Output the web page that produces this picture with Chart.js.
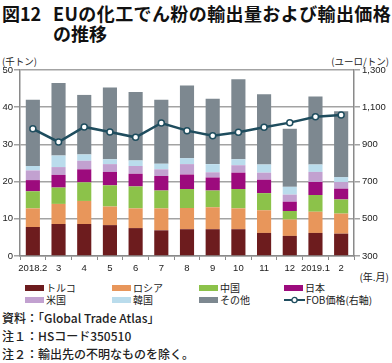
<!DOCTYPE html>
<html lang="ja">
<head>
  <meta charset="UTF-8">
  <title>EUの化工でん粉の輸出量および輸出価格の推移</title>
  <script src="https://cdn.jsdelivr.net/npm/chart.js"></script>
  <style>
body {
  margin: 0;
  width: 392px;
  height: 363px;
  background: #fff;
  position: relative;
  overflow: hidden;
  font-family: "Noto Sans CJK JP", "Liberation Sans", sans-serif;
  color: #222;
}
.title {
  position: absolute;
  font-size: 18px;
  font-weight: bold;
  line-height: 20px;
  white-space: nowrap;
  color: #111;
}
.unit {
  position: absolute;
  font-size: 9.5px;
  line-height: 12px;
  white-space: nowrap;
}
#chartBox {
  position: absolute;
  left: 0;
  top: 52px;
  width: 392px;
  height: 226px;
}
#legend .item {
  position: absolute;
  font-size: 10px;
  line-height: 12px;
  white-space: nowrap;
}
#legend .sw {
  display: inline-block;
  width: 19px;
  height: 6px;
  margin-right: 2px;
  vertical-align: 1px;
}
.note {
  position: absolute;
  left: 2px;
  font-size: 12px;
  line-height: 16px;
  white-space: nowrap;
  font-weight: 500;
}
  </style>
</head>
<body>
  <div class="title" style="left:2px; top:3px;">図12</div>
  <div class="title" style="left:53px; top:3px; letter-spacing:0.4px;">EUの化工でん粉の輸出量および輸出価格</div>
  <div class="title" style="left:53px; top:23px;">の推移</div>

  <div class="unit" style="left:2px; top:55px;">(千トン)</div>
  <div class="unit" style="right:3px; top:55px;">(ユーロ/トン)</div>
  <div class="unit" style="right:3px; top:271px; font-size:10px;">(年.月)</div>

  <div id="chartBox"><canvas id="chart" width="392" height="226"></canvas></div>
  <div id="legend"></div>

  <div class="note" style="top:310px;">資料：「Global Trade Atlas」</div>
  <div class="note" style="top:328px;">注１：HSコード350510</div>
  <div class="note" style="top:346px;">注２：輸出先の不明なものを除く。</div>

  <script>
    var months = ['2018.2', '3', '4', '5', '6', '7', '8', '9', '10', '11', '12', '2019.1', '2'];

    // thousand tonnes, bottom to top
    var turkey = [7.8, 8.6, 8.6, 8.3, 7.5, 6.9, 7.2, 7.2, 7.2, 6.2, 5.4, 6.2, 6.0];
    var russia = [5.0, 5.4, 6.2, 5.0, 5.3, 5.9, 5.7, 5.9, 5.6, 6.1, 4.4, 5.7, 5.4];
    var china  = [4.6, 4.4, 5.0, 5.7, 5.9, 4.8, 5.1, 4.5, 5.2, 4.6, 2.3, 4.5, 3.8];
    var japan  = [3.0, 3.4, 3.5, 3.6, 3.4, 3.9, 3.9, 3.5, 4.4, 3.6, 2.5, 3.5, 2.9];
    var usa    = [2.6, 2.1, 2.3, 2.1, 2.1, 1.8, 2.8, 1.4, 2.0, 1.9, 1.9, 2.7, 1.8];
    var korea  = [1.2, 3.1, 1.7, 1.3, 1.5, 1.5, 1.6, 2.2, 1.6, 2.2, 2.1, 2.0, 1.3];
    var others = [17.8, 19.5, 16.0, 19.3, 18.4, 17.2, 19.5, 17.6, 21.5, 18.9, 15.6, 18.3, 17.7];

    // euro per tonne (right axis)
    var fobPrice = [984, 913, 994, 967, 938, 1015, 974, 947, 965, 992, 1017, 1049, 1058];

    var leftTicks = [0, 10, 20, 30, 40, 50];
    var rightTicks = [300, 500, 700, 900, 1100, 1300];

    var barNames = ['トルコ', 'ロシア', '中国', '日本', '米国', '韓国', 'その他'];
    var barData = [turkey, russia, china, japan, usa, korea, others];
    var barColors = ['#6d1c1e', '#e8965b', '#8cc24a', '#9c0b7d', '#c2a1d0', '#badcec', '#7d8890'];
    var lineName = 'FOB価格(右軸)';
    var lineColor = '#1f4d5e';

    var tickFont = { family: '"Liberation Sans", "Noto Sans CJK JP", sans-serif', size: 9.5 };

    var datasets = barNames.map(function(name, i) {
      return {
        type: 'bar',
        label: name,
        data: barData[i],
        backgroundColor: barColors[i],
        yAxisID: 'y',
        stack: 'vol',
        order: 1,
        categoryPercentage: 1,
        barPercentage: 0.55
      };
    });
    datasets.push({
      type: 'line',
      label: lineName,
      data: fobPrice,
      yAxisID: 'y2',
      borderColor: lineColor,
      borderWidth: 2.5,
      pointRadius: 3,
      pointBorderWidth: 1.5,
      pointBackgroundColor: '#fff',
      pointBorderColor: lineColor,
      tension: 0,
      order: 0
    });

    var gridGrey = '#a3a3a3';
    var axisGrey = '#8a8a8a';

    new Chart(document.getElementById('chart').getContext('2d'), {
      data: { labels: months, datasets: datasets },
      options: {
        responsive: false,
        animation: false,
        devicePixelRatio: 1,
        layout: { padding: { top: 18, left: 0, right: 0, bottom: 0 } },
        plugins: { legend: { display: false }, tooltip: { enabled: false } },
        scales: {
          x: {
            stacked: true,
            offset: true,
            grid: { drawOnChartArea: false, drawTicks: true, tickLength: 4, color: axisGrey, lineWidth: 1, offset: true },
            border: { display: true, color: axisGrey, width: 1.5 },
            ticks: { font: tickFont, color: '#222', padding: 3, maxRotation: 0, autoSkip: false },
            afterFit: function(s) { s.height = 22; }
          },
          y: {
            position: 'left',
            stacked: true,
            min: leftTicks[0],
            max: leftTicks[leftTicks.length - 1],
            afterBuildTicks: function(s) { s.ticks = leftTicks.map(function(v) { return { value: v }; }); },
            ticks: { font: tickFont, color: '#222', padding: 1 },
            grid: { color: gridGrey, lineWidth: 1.5, tickLength: 6 },
            border: { display: true, color: axisGrey, width: 1.5 },
            afterFit: function(s) { s.width = 20; }
          },
          y2: {
            position: 'right',
            min: rightTicks[0],
            max: rightTicks[rightTicks.length - 1],
            afterBuildTicks: function(s) { s.ticks = rightTicks.map(function(v) { return { value: v }; }); },
            ticks: {
              font: tickFont, color: '#222', padding: 2,
              callback: function(v) { return v.toLocaleString('en-US'); }
            },
            grid: { drawOnChartArea: false, color: gridGrey, lineWidth: 1.5, tickLength: 6 },
            border: { display: true, color: axisGrey, width: 1.5 },
            afterFit: function(s) { s.width = 38; }
          }
        }
      }
    });

    // legend: 4 columns x 2 rows
    var legend = document.getElementById('legend');
    var colX = [25, 112, 199, 284];
    var rowY = [282, 293.5];
    var items = barNames.map(function(n, i) { return { name: n, color: barColors[i] }; });
    items.push({ name: lineName, line: true });
    items.forEach(function(it, i) {
      var div = document.createElement('div');
      div.className = 'item';
      div.style.left = colX[i % 4] + 'px';
      div.style.top = rowY[Math.floor(i / 4)] + 'px';
      var sw;
      if (it.line) {
        sw = '<svg width="21" height="8" style="margin-right:1px;vertical-align:0px">' +
             '<line x1="0" y1="4" x2="21" y2="4" stroke="' + lineColor + '" stroke-width="2"/>' +
             '<circle cx="10.5" cy="4" r="2.6" fill="#fff" stroke="' + lineColor + '" stroke-width="1.3"/></svg>';
      } else {
        sw = '<span class="sw" style="background:' + it.color + '"></span>';
      }
      div.innerHTML = sw + it.name;
      legend.appendChild(div);
    });
  </script>
</body>
</html>
